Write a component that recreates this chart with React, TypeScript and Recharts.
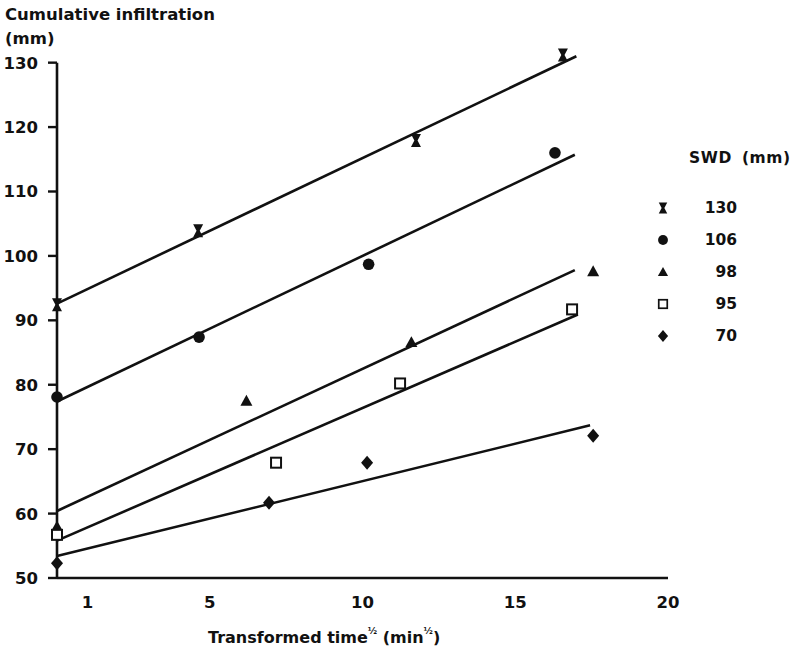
import React from "react";
import { ScatterChart, Scatter, XAxis, YAxis, ReferenceLine } from "recharts";

// SWD levels (mm), one series each
const SWD = ["130", "106", "98", "95", "70"];

// measured points, transformed time (x) vs cumulative infiltration (y)
const X_130 = [0, 4.62, 11.75, 16.56];
const Y_130 = [92.4, 103.9, 117.9, 131.2];
const X_106 = [0, 4.65, 10.2, 16.3];
const Y_106 = [78.1, 87.4, 98.7, 116.0];
const X_98 = [0, 6.2, 11.6, 17.55];
const Y_98 = [58.0, 77.5, 86.6, 97.6];
const X_95 = [0, 7.17, 11.23, 16.86];
const Y_95 = [56.7, 67.9, 80.2, 91.7];
const X_70 = [0, 6.94, 10.15, 17.55];
const Y_70 = [52.3, 61.7, 67.9, 72.1];

// fitted lines: start and end of each
const FIT_X0 = [0, 0, 0, 0, 0];
const FIT_Y0 = [92.6, 77.4, 60.4, 55.8, 53.4];
const FIT_X1 = [17.0, 16.95, 16.95, 17.05, 17.45];
const FIT_Y1 = [131.0, 115.7, 97.8, 90.9, 73.7];

const X_TICKS = [1, 5, 10, 15, 20];
const Y_TICKS = [50, 60, 70, 80, 90, 100, 110, 120, 130];

const INK = "#111";
const FONT = '"DejaVu Sans", Verdana, sans-serif';

type Kind = "x" | "circle" | "triangle" | "square" | "diamond";
const KINDS: Kind[] = ["x", "circle", "triangle", "square", "diamond"];

const POINTS = [
  [X_130, Y_130],
  [X_106, Y_106],
  [X_98, Y_98],
  [X_95, Y_95],
  [X_70, Y_70],
].map(([xs, ys]) => xs.map((x, i) => ({ x, y: ys[i] })));

const FITS = SWD.map((_, i) => [
  { x: FIT_X0[i], y: FIT_Y0[i] },
  { x: FIT_X1[i], y: FIT_Y1[i] },
]);

function Marker({ kind, cx, cy, s = 1 }: { kind: Kind; cx: number; cy: number; s?: number }) {
  const t = `translate(${cx},${cy}) scale(${s})`;
  switch (kind) {
    case "x":
      return <path transform={t} d="M-5,-6.5 L5,-6.5 L1.6,0 L5,6.5 L-5,6.5 L-1.6,0 Z" fill={INK} />;
    case "circle":
      return <circle cx={cx} cy={cy} r={5.8 * s} fill={INK} />;
    case "triangle":
      return <path transform={t} d="M0,-6 L6,4.8 L-6,4.8 Z" fill={INK} />;
    case "square":
      return <rect transform={t} x={-5} y={-5} width={10} height={10} fill="#fff" stroke={INK} strokeWidth={2} />;
    default:
      return <path transform={t} d="M0,-7 L6,0 L0,7 L-6,0 Z" fill={INK} />;
  }
}

const YTick = (props: any) => (
  <text
    x={props.x}
    y={props.y}
    dy="0.36em"
    textAnchor="end"
    fill={INK}
    fontSize={16.5}
    fontWeight={700}
    fontFamily={FONT}
  >
    {props.payload.value}
  </text>
);

const XTick = (props: any) => (
  <text
    x={props.x}
    y={props.y}
    dy="0.71em"
    textAnchor="middle"
    fill={INK}
    fontSize={16.5}
    fontWeight={700}
    fontFamily={FONT}
  >
    {props.payload.value}
  </text>
);

export default function App() {
  return (
    <div
      style={{
        position: "absolute",
        left: 0,
        top: 0,
        width: 795,
        height: 654,
        background: "#fff",
        fontFamily: FONT,
        color: INK,
        fontWeight: 700,
      }}
    >
      <ScatterChart width={795} height={654} margin={{ top: 53, right: 127, bottom: 46, left: 7 }}>
        <XAxis
          type="number"
          dataKey="x"
          domain={[0, 20]}
          ticks={X_TICKS}
          tick={<XTick />}
          tickLine={false}
          tickSize={10}
          tickMargin={8}
          height={30}
          axisLine={{ stroke: INK, strokeWidth: 2.6 }}
        />
        <YAxis
          type="number"
          dataKey="y"
          domain={[50, 131.5]}
          ticks={Y_TICKS}
          tick={<YTick />}
          tickSize={9}
          tickMargin={10}
          width={50}
          axisLine={false}
          tickLine={{ stroke: INK, strokeWidth: 2.4 }}
        />
        <ReferenceLine
          segment={[
            { x: 0, y: 50 },
            { x: 0, y: 130 },
          ]}
          stroke={INK}
          strokeWidth={2.6}
        />
        {FITS.map((d, i) => (
          <Scatter
            key={"fit" + i}
            data={d}
            line={{ stroke: INK, strokeWidth: 2.6 }}
            shape={() => <g />}
            isAnimationActive={false}
          />
        ))}
        {POINTS.map((d, i) => (
          <Scatter
            key={"pts" + i}
            data={d}
            shape={(p: any) => <Marker kind={KINDS[i]} cx={p.cx} cy={p.cy} />}
            isAnimationActive={false}
          />
        ))}
      </ScatterChart>

      {/* y-axis title */}
      <div style={{ position: "absolute", left: 5, top: 3, fontSize: 16.5, lineHeight: "24px" }}>
        <div>Cumulative infiltration</div>
        <div>(mm)</div>
      </div>

      {/* x-axis title */}
      <div
        style={{
          position: "absolute",
          left: 208,
          top: 626,
          fontSize: 16,
          lineHeight: "24px",
          whiteSpace: "nowrap",
        }}
      >
        Transformed time
        <span style={{ fontSize: 9, position: "relative", top: -9 }}>½</span> (min
        <span style={{ fontSize: 9, position: "relative", top: -9 }}>½</span>)
      </div>

      {/* legend */}
      <div
        style={{
          position: "absolute",
          left: 689,
          top: 146,
          fontSize: 15.5,
          lineHeight: "24px",
          letterSpacing: 0.6,
          wordSpacing: 4,
          whiteSpace: "nowrap",
        }}
      >
        SWD (mm)
      </div>
      {SWD.map((label, i) => (
        <div
          key={label}
          style={{
            position: "absolute",
            left: 654,
            top: 192 + i * 32,
            width: 83,
            height: 32,
            display: "flex",
            alignItems: "center",
            justifyContent: "space-between",
            fontSize: 15.5,
          }}
        >
          <svg width={18} height={18}>
            <Marker kind={KINDS[i]} cx={9} cy={9} s={0.85} />
          </svg>
          <span>{label}</span>
        </div>
      ))}
    </div>
  );
}
